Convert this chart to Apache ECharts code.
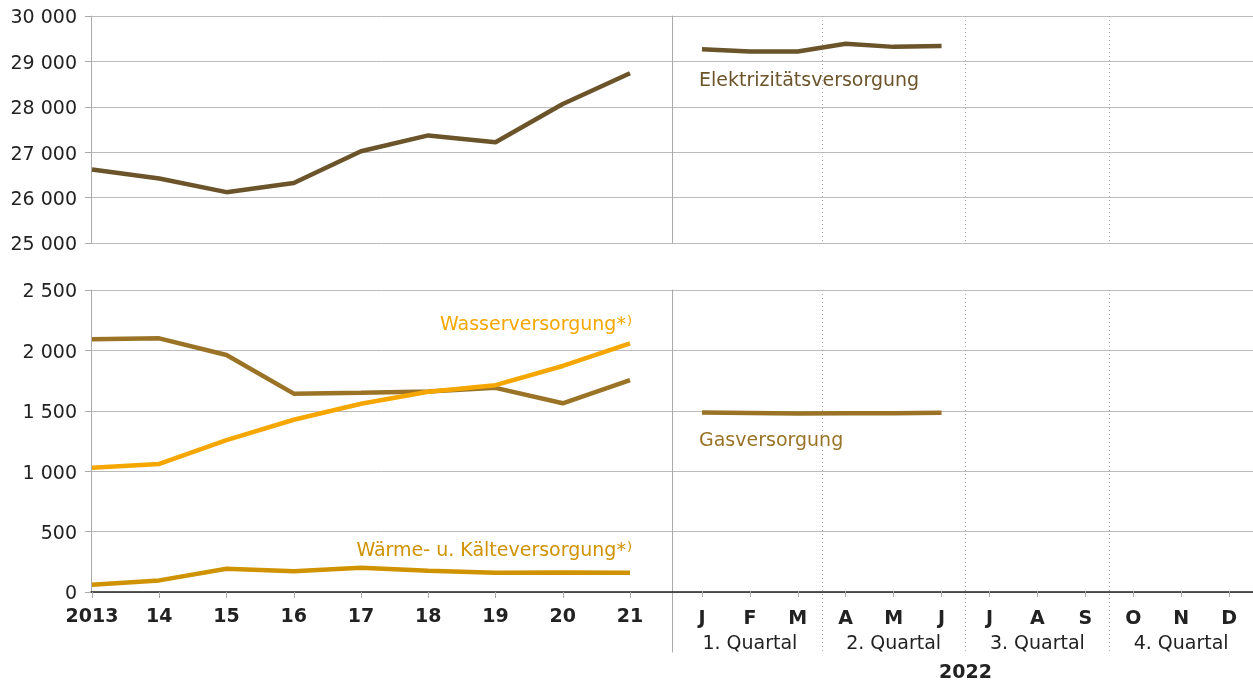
<!DOCTYPE html>
<html>
<head>
<meta charset="utf-8">
<script src="https://cdn.jsdelivr.net/npm/echarts@6/dist/echarts.min.js"></script>
<style>
  html, body { margin: 0; padding: 0; background: #fff; }
  #chart { width: 1253px; height: 684px; }
</style>
</head>
<body>
<div id="chart"></div>
<script>
// categories
var years = ['2013', '14', '15', '16', '17', '18', '19', '20', '21'];
var months = ['J', 'F', 'M', 'A', 'M', 'J', 'J', 'A', 'S', 'O', 'N', 'D'];
var quarters = ['1. Quartal', '2. Quartal', '3. Quartal', '4. Quartal'];

// series values
var elekYears = [26620, 26420, 26120, 26320, 27020, 27370, 27220, 28060, 28740];
var elekMonths = [29270, 29220, 29220, 29390, 29320, 29340];
var gasYears = [2092, 2100, 1962, 1642, 1650, 1660, 1690, 1562, 1754];
var gasMonths = [1482, 1478, 1474, 1476, 1477, 1480];
var wasserYears = [1028, 1060, 1258, 1426, 1558, 1658, 1712, 1871, 2058];
var waermeYears = [60, 96, 193, 171, 200, 176, 160, 162, 160];

// tick labels
var topTicks = { min: 25000, max: 30000, interval: 1000 };
var bottomTicks = { min: 0, max: 2500, interval: 500 };

var C_ELEK = '#6b5429';
var C_GAS = '#9a7327';
var C_WASSER = '#f5a700';
var C_WAERME = '#cf9200';
var FONT = 'DejaVu Sans';

// 30000 -> {v|30 000}
function fmtNum(v) {
    return '{v|' + String(v).replace(/\B(?=(\d{3})+(?!\d))/g, ' ') + '}';
}
var yLabelRich = { v: { color: '#222', fontSize: 19, fontFamily: FONT, padding: [5, 0, 0, 0] } };

// gepunktete Linien zwischen den Quartalen
function quarterSplit(index) {
    return index === 3 || index === 6 || index === 9;
}

var myChart = echarts.init(document.getElementById('chart'));

var dotted = { show: true, interval: quarterSplit, lineStyle: { color: '#aaa', type: [1, 3], width: 1 } };

option = {
    backgroundColor: '#fff',
    animation: false,
    textStyle: { fontFamily: FONT },
    grid: [
        { left: 91, right: 0, top: 16, height: 227 },   // oben Hintergrund
        { left: 92, width: 538, top: 16, height: 227 },  // oben Jahre
        { left: 678, right: 0, top: 16, height: 227 },   // oben Monate
        { left: 91, right: 0, top: 290, height: 302 },  // unten Hintergrund
        { left: 92, width: 538, top: 290, height: 302 }, // unten Jahre
        { left: 678, right: 0, top: 290, height: 302 },  // unten Monate
        { left: 678, right: 0, top: 290, height: 362 }   // unten Rahmen
    ],
    xAxis: [
        { gridIndex: 0, type: 'value', show: false },
        { gridIndex: 1, type: 'category', data: years, boundaryGap: false, show: false },
        {
            gridIndex: 2, type: 'category', data: months, boundaryGap: true,
            axisLine: { show: false }, axisTick: { show: false }, axisLabel: { show: false },
            splitLine: dotted
        },
        {
            gridIndex: 3, type: 'value',
            axisLine: { show: true, onZero: false, lineStyle: { color: '#222', width: 1.5 } },
            axisTick: { show: false }, axisLabel: { show: false }, splitLine: { show: false }
        },
        {
            gridIndex: 4, type: 'category', data: years, boundaryGap: false,
            axisLine: { show: false },
            axisTick: { show: true, interval: 0, length: 6, lineStyle: { color: '#aaa' } },
            axisLabel: { interval: 0, margin: 16, color: '#222', fontWeight: 'bold', fontSize: 19, fontFamily: FONT }
        },
        {
            gridIndex: 5, type: 'category', data: months, boundaryGap: true,
            axisLine: { show: false },
            axisTick: { show: true, interval: 0, alignWithLabel: true, length: 6, lineStyle: { color: '#aaa' } },
            axisLabel: {
                interval: 0, margin: 16,
                formatter: function (v, i) {
                    var s = '{m|' + v + '}';
                    if (i % 3 === 1) {
                        s += '\n{q|' + quarters[(i - 1) / 3] + '}';
                    }
                    return s;
                },
                rich: {
                    m: { color: '#222', fontWeight: 'bold', fontSize: 19, fontFamily: FONT, lineHeight: 24 },
                    q: { color: '#222', fontSize: 19, fontFamily: FONT, lineHeight: 27 }
                }
            },
            name: '2022', nameLocation: 'middle', nameGap: 73,
            nameTextStyle: { color: '#222', fontWeight: 'bold', fontSize: 19, fontFamily: FONT }
        },
        {
            gridIndex: 6, type: 'category', data: months, boundaryGap: true,
            axisLine: { show: false }, axisTick: { show: false }, axisLabel: { show: false },
            splitLine: dotted
        }
    ],
    yAxis: [
        {
            gridIndex: 0, type: 'value', min: topTicks.min, max: topTicks.max, interval: topTicks.interval,
            axisLine: { show: true, onZero: false, lineStyle: { color: '#aaa' } },
            axisTick: { show: true, length: 6, lineStyle: { color: '#aaa' } },
            axisLabel: { margin: 14, formatter: fmtNum, rich: yLabelRich },
            splitLine: { show: true, lineStyle: { color: '#bbb' } }
        },
        { gridIndex: 1, type: 'value', min: topTicks.min, max: topTicks.max, show: false },
        {
            gridIndex: 2, type: 'value', min: topTicks.min, max: topTicks.max, offset: 6,
            axisLine: { show: true, onZero: false, lineStyle: { color: '#aaa' } },
            axisTick: { show: false }, axisLabel: { show: false }, splitLine: { show: false }
        },
        {
            gridIndex: 3, type: 'value', min: bottomTicks.min, max: bottomTicks.max, interval: bottomTicks.interval,
            axisLine: { show: true, onZero: false, lineStyle: { color: '#aaa' } },
            axisTick: { show: true, length: 6, lineStyle: { color: '#aaa' } },
            axisLabel: { margin: 14, formatter: fmtNum, rich: yLabelRich },
            splitLine: { show: true, lineStyle: { color: '#bbb' } }
        },
        { gridIndex: 4, type: 'value', min: bottomTicks.min, max: bottomTicks.max, show: false },
        { gridIndex: 5, type: 'value', min: bottomTicks.min, max: bottomTicks.max, show: false },
        {
            gridIndex: 6, type: 'value', min: 0, max: 1, offset: 6,
            axisLine: { show: true, onZero: false, lineStyle: { color: '#aaa' } },
            axisTick: { show: false }, axisLabel: { show: false }, splitLine: { show: false }
        }
    ],
    series: [
        { name: 'Elektrizitätsversorgung', type: 'line', xAxisIndex: 1, yAxisIndex: 1, data: elekYears,
          symbol: 'none', lineStyle: { color: C_ELEK, width: 4.5 } },
        { name: 'Elektrizitätsversorgung 2022', type: 'line', xAxisIndex: 2, yAxisIndex: 2, data: elekMonths,
          symbol: 'none', lineStyle: { color: C_ELEK, width: 4.5 } },
        { name: 'Gasversorgung', type: 'line', xAxisIndex: 4, yAxisIndex: 4, data: gasYears,
          symbol: 'none', lineStyle: { color: C_GAS, width: 4.5 } },
        { name: 'Gasversorgung 2022', type: 'line', xAxisIndex: 5, yAxisIndex: 5, data: gasMonths,
          symbol: 'none', lineStyle: { color: C_GAS, width: 4.5 } },
        { name: 'Wärme- u. Kälteversorgung', type: 'line', xAxisIndex: 4, yAxisIndex: 4, data: waermeYears,
          symbol: 'none', lineStyle: { color: C_WAERME, width: 4.5 } },
        { name: 'Wasserversorgung', type: 'line', xAxisIndex: 4, yAxisIndex: 4, data: wasserYears,
          symbol: 'none', lineStyle: { color: C_WASSER, width: 4.5 } }
    ],
    graphic: [
        { type: 'text', left: 699, top: 72,
          style: { text: 'Elektrizitätsversorgung', fill: C_ELEK, font: '19px "DejaVu Sans"' } },
        { type: 'text', left: 699, top: 432,
          style: { text: 'Gasversorgung', fill: C_GAS, font: '19px "DejaVu Sans"' } },
        { type: 'text', right: 621, top: 315,
          style: {
              text: '{a|Wasserversorgung*}{s|)}', fill: C_WASSER,
              rich: {
                  a: { fill: C_WASSER, fontSize: 19, fontFamily: FONT },
                  s: { fill: C_WASSER, fontSize: 13, fontFamily: FONT, padding: [0, 0, 8, 1] }
              }
          } },
        { type: 'text', right: 621, top: 541,
          style: {
              text: '{a|Wärme- u. Kälteversorgung*}{s|)}', fill: C_WAERME,
              rich: {
                  a: { fill: C_WAERME, fontSize: 19, fontFamily: FONT },
                  s: { fill: C_WAERME, fontSize: 13, fontFamily: FONT, padding: [0, 0, 8, 1] }
              }
          } }
    ]
};

myChart.setOption(option);
</script>
</body>
</html>
